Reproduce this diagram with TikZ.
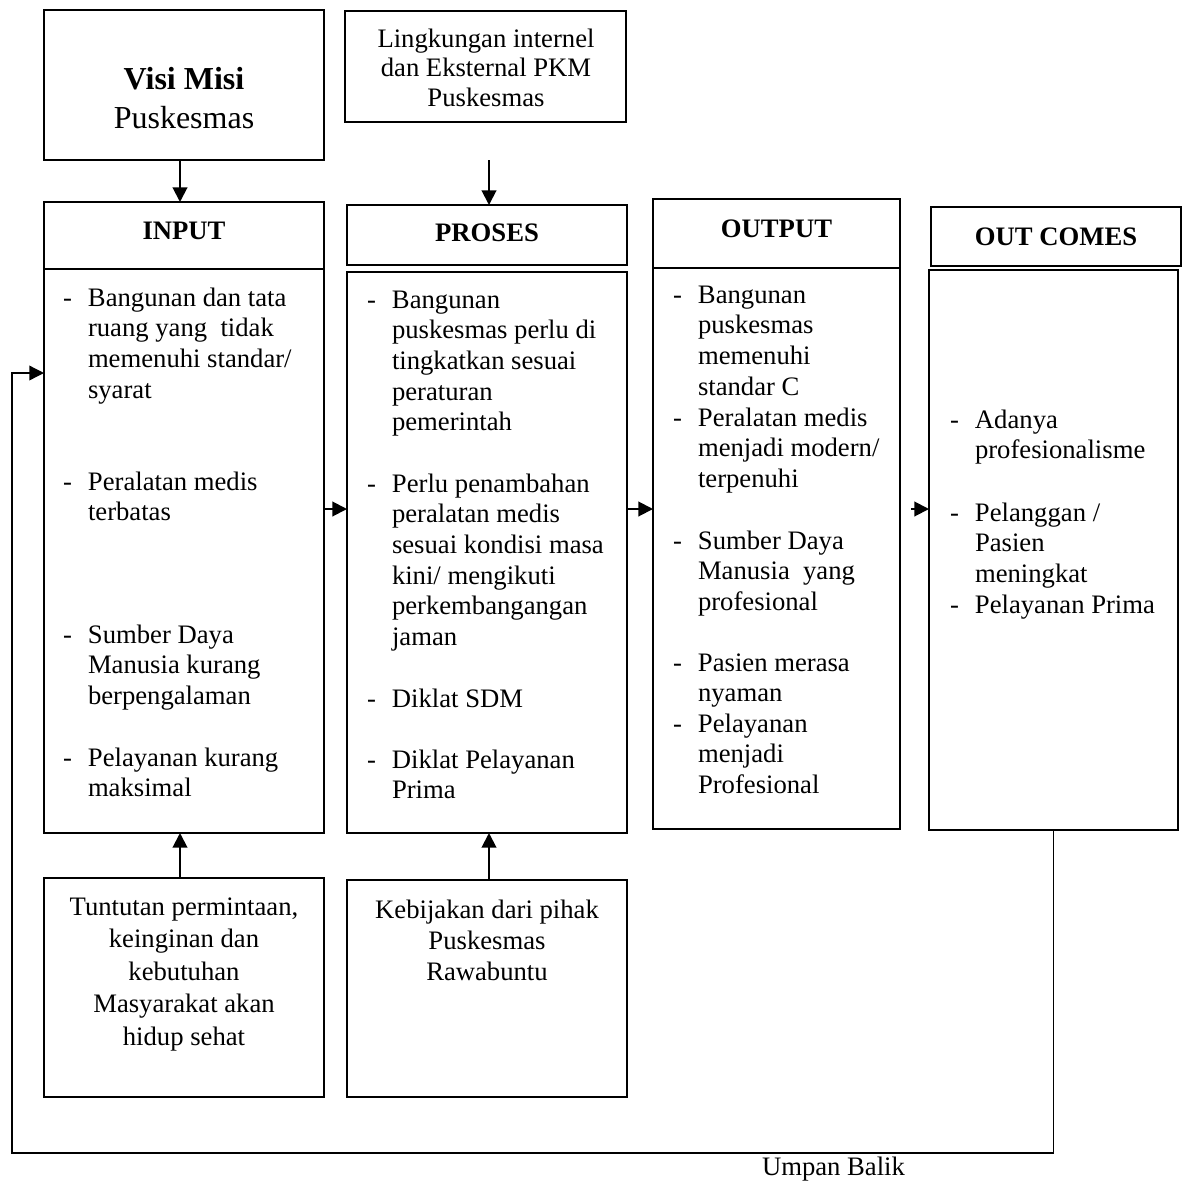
\documentclass[tikz,border=0pt]{standalone}
\usepackage{fontspec}
\setmainfont{Liberation Serif}
\usetikzlibrary{arrows.meta}
\newcommand\bxx[5]{\node[boxs,anchor=north west,minimum width={(#4-#2)*0.75pt},minimum height={(#5-#3)*0.75pt}] (#1) at (#2,#3) {};}
\newcommand\itm[4]{\node[txt,anchor=base west] (#1) at (#2,#3) {\begin{tabular}[t]{@{}p{18.75pt}@{}l@{}}#4\end{tabular}};}
\begin{document}
\begin{tikzpicture}[x=0.75pt,y=-0.75pt,
  boxs/.style={draw,line width=1.5pt,inner sep=0pt,outer sep=0pt},
  txt/.style={inner sep=0pt,outer sep=0pt,font=\fontsize{20}{23}\selectfont},
  hdr/.style={inner sep=0pt,outer sep=0pt,font=\fontsize{20}{23}\selectfont\bfseries,anchor=base},
  arr/.style={line width=1.5pt,-{Triangle[length=11pt,width=11pt]}},
  fbl/.style={line width=1pt,-{Triangle[length=11pt,width=11pt]}}]
\path[use as bounding box] (0,0) rectangle (1186,1182);

% boxes
\bxx{visi}{44}{10}{324}{160}
\bxx{lk}{345}{11}{626}{122}
\bxx{inh}{44}{202}{324}{269}
\bxx{inb}{44}{269}{324}{833}
\bxx{prh}{347}{205}{627}{265}
\bxx{prb}{347}{272}{627}{833}
\bxx{ouh}{653}{199}{900}{268}
\bxx{oub}{653}{268}{900}{829}
\bxx{och}{931}{207}{1181}{266}
\bxx{ocb}{929}{270}{1178}{830}
\bxx{tun}{44}{878}{324}{1097}
\bxx{keb}{347}{880}{627}{1097}

% top texts
\node[inner sep=0pt,anchor=base,font=\fontsize{24}{29.25}\selectfont] (visit) at (184,89)
  {\begin{tabular}[t]{@{}c@{}}\textbf{Visi Misi}\\Puskesmas\end{tabular}};
\node[inner sep=0pt,anchor=base,font=\fontsize{20}{22.3}\selectfont] (lkt) at (486,47)
  {\begin{tabular}[t]{@{}c@{}}Lingkungan internel\\dan Eksternal PKM\\Puskesmas\end{tabular}};

% headers
\node[hdr] (inht) at (184,239) {INPUT};
\node[hdr] (prht) at (487,241) {PROSES};
\node[hdr] (ouht) at (776.5,237) {OUTPUT};
\node[hdr] (ocht) at (1056,245) {OUT COMES};

% INPUT items
\itm{in1}{63}{306}{-&Bangunan dan tata\\&ruang yang\ \ tidak\\&memenuhi standar/\\&syarat}
\itm{in2}{63}{490}{-&Peralatan medis\\&terbatas}
\itm{in3}{63}{643}{-&Sumber Daya\\&Manusia kurang\\&berpengalaman}
\itm{in4}{63}{766}{-&Pelayanan kurang\\&maksimal}

% PROSES items
\itm{pr1}{367}{308}{-&Bangunan\\&puskesmas perlu di\\&tingkatkan sesuai\\&peraturan\\&pemerintah}
\itm{pr2}{367}{492}{-&Perlu penambahan\\&peralatan medis\\&sesuai kondisi masa\\&kini/ mengikuti\\&perkembangangan\\&jaman}
\itm{pr3}{367}{707}{-&Diklat SDM}
\itm{pr4}{367}{768}{-&Diklat Pelayanan\\&Prima}

% OUTPUT items
\itm{ou1}{673}{303}{-&Bangunan\\&puskesmas\\&memenuhi\\&standar C}
\itm{ou2}{673}{426}{-&Peralatan medis\\&menjadi modern/\\&terpenuhi}
\itm{ou3}{673}{549}{-&Sumber Daya\\&Manusia\ \ yang\\&profesional}
\itm{ou4}{673}{671}{-&Pasien merasa\\&nyaman}
\itm{ou5}{673}{732}{-&Pelayanan\\&menjadi\\&Profesional}

% OUT COMES items
\itm{oc1}{950}{428}{-&Adanya\\&profesionalisme}
\itm{oc2}{950}{521}{-&Pelanggan /\\&Pasien\\&meningkat}
\itm{oc3}{950}{613}{-&Pelayanan Prima}

% bottom boxes text
\node[inner sep=0pt,anchor=base,font=\fontsize{20}{24.4}\selectfont] (tunt) at (184,915)
  {\begin{tabular}[t]{@{}c@{}}Tuntutan permintaan,\\keinginan dan\\kebutuhan\\Masyarakat akan\\hidup sehat\end{tabular}};
\node[inner sep=0pt,anchor=base,font=\fontsize{20}{23.25}\selectfont] (kebt) at (487,918)
  {\begin{tabular}[t]{@{}c@{}}Kebijakan dari pihak\\Puskesmas\\Rawabuntu\end{tabular}};

\node[txt,anchor=base west] (umpan) at (762,1175) {Umpan Balik};

% connectors
\draw[arr] ([xshift=-3pt]visi.south) -- ([xshift=-3pt]inh.north);
\coordinate (lka) at (489,160);
\draw[arr] (lka) -- (lka |- prh.north);
\coordinate (hy) at (0,509);
\draw[arr] (inb.east |- hy) -- (prb.west |- hy);
\draw[arr] (prb.east |- hy) -- (oub.west |- hy);
\coordinate (oca) at (911,509);
\draw[arr] (oca) -- (ocb.west |- oca);
\draw[arr] ([xshift=-3pt]tun.north) -- ([xshift=-3pt]inb.south);
\draw[arr] ([xshift=1.5pt]keb.north) -- ([xshift=1.5pt]prb.south);
\coordinate (fbc) at (12,1153);
\coordinate (fby) at (0,373);
\draw[fbl] (ocb.south) |- (fbc) |- (inb.west |- fby);
\end{tikzpicture}
\end{document}
